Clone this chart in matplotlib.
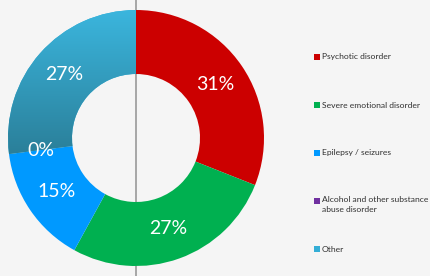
import matplotlib
matplotlib.use("Agg")
import matplotlib.pyplot as plt
from matplotlib.lines import Line2D
from matplotlib.patches import Rectangle
from matplotlib.colors import LinearSegmentedColormap
import numpy as np

categories = ["Psychotic disorder", "Severe emotional disorder", "Epilepsy / seizures",
              "Alcohol and other substance\nabuse disorder", "Other"]
values = [31, 27, 15, 0, 27]
labels = ["31%", "27%", "15%", "0%", "27%"]
colors = ["#cc0000", "#00b050", "#0099ff", "#7030a0", "#34aed6"]

bg = "#f5f5f5"
plt.rcParams['font.family'] = ['Lato', 'DejaVu Sans']

fig = plt.figure(figsize=(4.3, 2.76), dpi=100, facecolor=bg)

# donut centred at (136, 138) px, outer radius 128 px
ax = fig.add_axes([8 / 430, 10 / 276, 256 / 430, 256 / 276])
ax.axis("off")

# thin vertical divider behind the donut
fig.lines.append(Line2D([136 / 430, 136 / 430], [0, 1], transform=fig.transFigure,
                        color="#a6a6a6", lw=1.4, zorder=-1))

wedges, _ = ax.pie(values, colors=colors, startangle=90, counterclock=False,
                   radius=1, wedgeprops=dict(width=0.5, edgecolor="none", linewidth=0))

# vertical gradient on the "Other" wedge
grad = np.linspace(0, 1, 256).reshape(-1, 1)
cmap = LinearSegmentedColormap.from_list("other", ["#3bb6de", "#2a7e98"])
im = ax.imshow(grad, cmap=cmap, extent=[-1, 0, -0.15, 1], aspect="auto",
               origin="upper", zorder=wedges[-1].get_zorder() + 0.1)
im.set_clip_path(wedges[-1])
ax.set_xlim(-1, 1)
ax.set_ylim(-1, 1)

start = 90.0
total = float(sum(values))
for v, lab in zip(values, labels):
    sweep = v / total * 360
    mid = np.deg2rad(start - sweep / 2)
    r = 0.75
    ax.text(r * np.cos(mid), r * np.sin(mid), lab, color="white", fontsize=14,
            ha="center", va="center", zorder=5)
    start -= sweep

# legend
legend_y = [57, 105, 153, 201, 249]
for cat, col, y in zip(categories, colors, legend_y):
    fig.patches.append(Rectangle((313.5 / 430, (276 - y - 3) / 276), 6 / 430, 6 / 276,
                                 transform=fig.transFigure, facecolor=col,
                                 edgecolor="none"))
    if "\n" in cat:
        fig.text(321.5 / 430, (276 - y + 5) / 276, cat, fontsize=6.1, color="#303030",
                 ha="left", va="top", linespacing=1.45)
    else:
        fig.text(321.5 / 430, (276 - y) / 276, cat, fontsize=6.1, color="#303030",
                 ha="left", va="center")

fig.savefig("out.png", dpi=100, facecolor=bg)
